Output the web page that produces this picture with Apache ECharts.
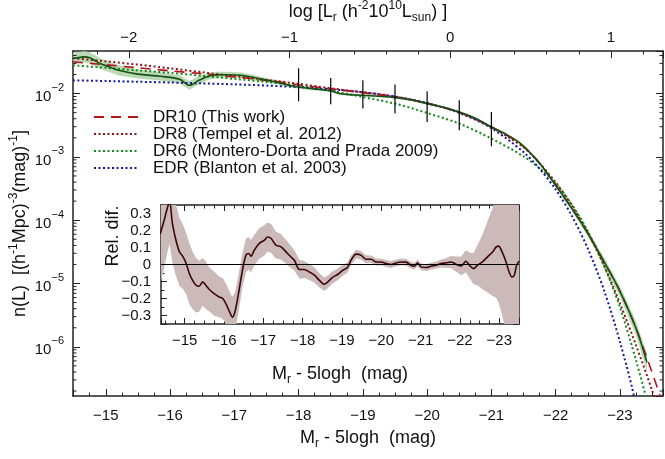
<!DOCTYPE html>
<html><head><meta charset="utf-8">
<script src="https://cdn.jsdelivr.net/npm/echarts@6.0.0/dist/echarts.min.js"></script>
<style>html,body{margin:0;padding:0;background:#fff}#c{width:665px;height:459px}</style>
</head><body><div id="c"></div>
<script>
// ---------------- data ----------------
const modelM = [-14.49, -15, -15.5, -16, -16.5, -17, -17.5, -18, -18.5, -19, -19.5, -20, -20.5, -21, -21.5, -21.75, -22, -22.25, -22.5, -22.75, -23, -23.25, -23.5, -23.7];
const dr10FitN = [0.0318, 0.0285, 0.0256, 0.0229, 0.0206, 0.0184, 0.0162, 0.0138, 0.0119, 0.0103, 0.0089, 0.00703, 0.00507, 0.00299, 0.00147, 7.93e-4, 3.56e-4, 1.54e-4, 6.21e-5, 2.24e-5, 7.53e-6, 1.96e-6, 3.95e-7, 1.0e-7];
const dr8N = [0.0361, 0.0324, 0.0287, 0.0251, 0.0217, 0.0189, 0.0165, 0.0143, 0.0121, 0.0105, 0.0089, 0.00703, 0.00507, 0.00294, 0.00142, 7.93e-4, 3.97e-4, 1.72e-4, 6.44e-5, 1.94e-5, 4.86e-6, 1.06e-6, 2.06e-7, 5.2e-8];
const dr6N = [0.0280, 0.0256, 0.0233, 0.0213, 0.0191, 0.0171, 0.0153, 0.0133, 0.0111, 0.00883, 0.00695, 0.00494, 0.00336, 0.00195, 0.00102, 6.61e-4, 3.83e-4, 1.78e-4, 6.68e-5, 1.94e-5, 4.21e-6, 6.12e-7, 6.9e-8, 1.0e-8];
const edrN = [0.0162, 0.0158, 0.0154, 0.0150, 0.0145, 0.0140, 0.0134, 0.01265, 0.0117, 0.0105, 0.0090, 0.0071, 0.00496, 0.00285, 0.00119, 6.51e-4, 3.06e-4, 1.18e-4, 3.57e-5, 7.95e-6, 1.2e-6, 1.12e-7, 1.0e-9, 1.0e-11];

const dr10M = [-14.49, -14.6, -14.67, -14.75, -14.85, -14.9, -15.05, -15.2, -15.5, -15.85,
  -16.15, -16.3, -16.45, -16.6, -16.75, -16.9, -17.1, -17.25, -17.4, -17.55,
  -17.7, -17.85, -18.0, -18.15, -18.3, -18.5, -18.65, -19.0, -19.25, -19.5,
  -19.75, -20.0, -20.25, -20.5, -20.75, -21.0, -21.2, -21.45, -21.75, -22.0,
  -22.25, -22.5, -22.75, -23.0, -23.25, -23.42];
const dr10N = [0.0361, 0.0374, 0.0381, 0.0368, 0.0324, 0.0301, 0.0265, 0.0233, 0.0203, 0.01875,
  0.01683, 0.01352, 0.01622, 0.01875, 0.01982, 0.01982, 0.01945, 0.01841, 0.01714, 0.01592,
  0.01482, 0.01352, 0.01271, 0.01213, 0.01169, 0.01107, 0.00993, 0.00940, 0.00906, 0.00865,
  0.00798, 0.00695, 0.00608, 0.00512, 0.00407, 0.00296, 0.00236, 0.00164, 7.93e-4, 3.56e-4,
  1.54e-4, 6.21e-5, 2.24e-5, 7.53e-6, 1.96e-6, 5.69e-7];
const dr10ErrDex = [0.09, 0.09, 0.09, 0.088, 0.086, 0.085, 0.082, 0.08, 0.07, 0.065,
  0.065, 0.07, 0.065, 0.055, 0.05, 0.047, 0.043, 0.04, 0.037, 0.034,
  0.031, 0.029, 0.027, 0.025, 0.022, 0.02, 0.019, 0.017, 0.016, 0.015,
  0.015, 0.015, 0.015, 0.015, 0.015, 0.016, 0.018, 0.02, 0.025, 0.03,
  0.04, 0.05, 0.065, 0.085, 0.11, 0.14];

const errM = [-18, -18.5, -19, -19.5, -20, -20.5, -21];
const errLo = [0.00755, 0.00678, 0.0058, 0.00483, 0.00356, 0.00263, 0.00147];
const errHi = [0.0251, 0.01762, 0.0162, 0.01387, 0.01087, 0.00783, 0.00513];

const relM = [-14.38, -14.48, -14.57, -14.62, -14.69, -14.78, -14.87, -14.95, -15.04, -15.12,
  -15.2, -15.29, -15.37, -15.46, -15.54, -15.63, -15.75, -15.88, -15.97, -16.07,
  -16.18, -16.22, -16.29, -16.37, -16.47, -16.56, -16.63, -16.69, -16.77, -16.9,
  -17.03, -17.11, -17.2, -17.32, -17.45, -17.58, -17.7, -17.79, -17.92, -18.04,
  -18.17, -18.3, -18.42, -18.55, -18.64, -18.76, -18.89, -19.02, -19.14, -19.23,
  -19.36, -19.48, -19.61, -19.74, -19.87, -19.99, -20.12, -20.25, -20.37, -20.5,
  -20.63, -20.75, -20.84, -20.92, -21.01, -21.14, -21.26, -21.39, -21.52, -21.64,
  -21.77, -21.9, -22.03, -22.15, -22.24, -22.34, -22.45, -22.57, -22.7, -22.83,
  -22.92, -22.98, -23.07, -23.17, -23.25, -23.32, -23.38, -23.44, -23.5];
const relVal = [0.18, 0.26, 0.34, 0.37, 0.24, 0.143, 0.074, 0.049, 0.006, -0.053,
  -0.092, -0.122, -0.128, -0.102, -0.122, -0.147, -0.171, -0.191, -0.2, -0.24,
  -0.298, -0.31, -0.269, -0.171, -0.034, 0.055, 0.065, 0.049, 0.084, 0.124,
  0.143, 0.162, 0.153, 0.114, 0.104, 0.074, 0.045, 0.025, -0.029, -0.029,
  -0.044, -0.063, -0.092, -0.116, -0.102, -0.076, -0.059, -0.034, -0.018, 0.025,
  0.061, 0.055, 0.031, 0.031, 0.015, 0.015, 0.006, 0.0, 0.009, 0.015,
  0.014, -0.004, -0.01, 0.009, -0.014, -0.018, -0.01, -0.004, 0.006, 0.009,
  0.015, 0.002, -0.008, 0.019, -0.004, -0.024, -0.004, 0.015, 0.045, 0.074,
  0.104, 0.108, 0.074, 0.015, -0.044, -0.073, -0.063, -0.004, 0.02];
const relErr = [0.3, 0.28, 0.26, 0.25, 0.23, 0.21, 0.2, 0.19, 0.18, 0.18,
  0.17, 0.16, 0.15, 0.14, 0.14, 0.13, 0.13, 0.12, 0.12, 0.12,
  0.12, 0.12, 0.11, 0.11, 0.1, 0.1, 0.095, 0.095, 0.09, 0.09,
  0.09, 0.085, 0.085, 0.08, 0.075, 0.07, 0.065, 0.06, 0.055, 0.05,
  0.047, 0.045, 0.042, 0.04, 0.038, 0.036, 0.034, 0.032, 0.03, 0.028,
  0.026, 0.025, 0.024, 0.022, 0.021, 0.02, 0.02, 0.02, 0.02, 0.02,
  0.02, 0.02, 0.02, 0.02, 0.02, 0.02, 0.02, 0.02, 0.024, 0.028,
  0.035, 0.045, 0.055, 0.065, 0.075, 0.09, 0.12, 0.16, 0.21, 0.26,
  0.3, 0.33, 0.37, 0.42, 0.46, 0.5, 0.53, 0.56, 0.6];

const legendNames = ['DR10 (This work)', 'DR8 (Tempel et al. 2012)', 'DR6 (Montero-Dorta and Prada 2009)', 'EDR (Blanton et al. 2003)'];
const mainXRange = [-23.67, -14.49];
const topXRange = [-2.348, 1.324];
const mainYRange = [1.671e-7, 0.0471];
const insetXRange = [-23.5, -14.4];
const insetYRange = [-0.35, 0.35];

// ---------------- styling ----------------
const FONT = '"Liberation Sans", Arial, Helvetica, sans-serif';
const AX = '#222';
const TXT = '#111';
const pairs = (xs, ys) => xs.map((x, i) => [x, ys[i]]);
const minusFmt = v => (v < 0 ? '\u2212' : '') + Math.abs(v);
const relFmt = v => Math.abs(v) < 1e-9 ? '0' : (v < 0 ? '\u2212' : '') + Math.abs(v).toFixed(1);
function richTitle(fs) {
  return {
    fontSize: fs, fontFamily: FONT, color: TXT, lineHeight: fs + 6,
    rich: {
      sup: { fontSize: Math.round(fs * 0.68), lineHeight: Math.round(fs * 0.72), verticalAlign: 'top', fontFamily: FONT, color: TXT },
      sub: { fontSize: Math.round(fs * 0.68), lineHeight: Math.round(fs * 0.72), verticalAlign: 'bottom', fontFamily: FONT, color: TXT }
    }
  };
}
const lineAx = { show: true, onZero: false, lineStyle: { color: AX, width: 1.5 } };
const tickIn = (len) => ({ show: true, inside: true, length: len, lineStyle: { color: AX, width: 1 } });
const lbl = (extra) => Object.assign({ fontSize: 15, fontFamily: FONT, color: TXT, showMinLabel: false, showMaxLabel: false }, extra);

// minor ticks of the log axis (2..9 x 10^n)
const logMinor = [];
for (let e = -7; e <= -2; e++) for (let k = 2; k <= 9; k++) {
  const v = k * Math.pow(10, e);
  if (v > mainYRange[0] && v < mainYRange[1]) logMinor.push([-20, v]);
}

const option = {
  animation: false,
  backgroundColor: '#fff',
  grid: [
    { left: 73, top: 51, width: 590, height: 345, containLabel: false, outerBoundsMode: 'none' },
    { left: 161, top: 205, width: 358, height: 119, containLabel: false, outerBoundsMode: 'none' }
  ],
  legend: {
    data: legendNames, orient: 'vertical', left: 93, top: 108.5, padding: 0,
    itemWidth: 44, itemHeight: 21, itemGap: 0, selectedMode: false,
    itemStyle: { opacity: 0, color: 'transparent', borderWidth: 0 },
    textStyle: { fontSize: 17, fontFamily: FONT, color: TXT, padding: [0, 0, 0, 10] }
  },
  xAxis: [
    { gridIndex: 0, type: 'value', inverse: true, min: mainXRange[0], max: mainXRange[1], splitNumber: 9,
      axisLine: lineAx, axisTick: tickIn(7), splitLine: { show: false },
      minorTick: { show: true, splitNumber: 4, length: 3.5, lineStyle: { color: AX, width: 1 } },
      axisLabel: lbl({ margin: 12, formatter: minusFmt }),
      name: 'M{sub|r} - 5logh  (mag)', nameLocation: 'middle', nameGap: 30, nameMoveOverlap: false,
      nameTextStyle: richTitle(18) },
    { gridIndex: 0, type: 'value', position: 'top', min: topXRange[0], max: topXRange[1], splitNumber: 4,
      axisLine: lineAx, axisTick: tickIn(7), splitLine: { show: false },
      minorTick: { show: true, splitNumber: 5, length: 3.5, lineStyle: { color: AX, width: 1 } },
      axisLabel: lbl({ margin: 6, formatter: minusFmt }),
      name: 'log [L{sub|r} (h{sup|-2}10{sup|10}L{sub|sun}) ]', nameLocation: 'middle', nameGap: 27, nameMoveOverlap: false,
      nameTextStyle: richTitle(18) },
    { gridIndex: 1, type: 'value', inverse: true, min: insetXRange[0], max: insetXRange[1], splitNumber: 9,
      axisLine: lineAx, axisTick: tickIn(6), splitLine: { show: false },
      minorTick: { show: true, splitNumber: 4, length: 3.5, lineStyle: { color: AX, width: 1 } },
      axisLabel: lbl({ margin: 9, formatter: minusFmt }),
      name: 'M{sub|r} - 5logh  (mag)', nameLocation: 'middle', nameGap: 38, nameMoveOverlap: false,
      nameTextStyle: richTitle(18) },
    { gridIndex: 1, type: 'value', position: 'top', inverse: true, min: insetXRange[0], max: insetXRange[1], splitNumber: 9,
      axisLine: lineAx, axisTick: tickIn(6), splitLine: { show: false },
      minorTick: { show: true, splitNumber: 4, length: 3.5, lineStyle: { color: AX, width: 1 } },
      axisLabel: { show: false } }
  ],
  yAxis: [
    { gridIndex: 0, type: 'log', logBase: 10, min: mainYRange[0], max: mainYRange[1],
      axisLine: lineAx, axisTick: tickIn(7), splitLine: { show: false },
      axisLabel: lbl({ margin: 9,
        formatter: v => { const e = Math.round(Math.log10(v)); return '{b|10}{s|' + (e < 0 ? '\u2212' : '') + Math.abs(e) + '}'; },
        rich: { b: { fontSize: 15, lineHeight: 22, verticalAlign: 'bottom', fontFamily: FONT, color: TXT },
                s: { fontSize: 11, lineHeight: 12, verticalAlign: 'top', fontFamily: FONT, color: TXT } } }),
      name: 'n(L)  [(h{sup|-1}Mpc){sup|-3}(mag){sup|-1}]', nameLocation: 'middle', nameGap: 41, nameMoveOverlap: false,
      nameTextStyle: richTitle(18) },
    { gridIndex: 0, type: 'log', logBase: 10, position: 'right', min: mainYRange[0], max: mainYRange[1],
      axisLine: lineAx, axisTick: tickIn(7), splitLine: { show: false }, axisLabel: { show: false } },
    { gridIndex: 1, type: 'value', min: insetYRange[0], max: insetYRange[1], splitNumber: 7,
      axisLine: lineAx, axisTick: tickIn(6), splitLine: { show: false },
      minorTick: { show: true, splitNumber: 2, length: 3.5, lineStyle: { color: AX, width: 1 } },
      axisLabel: lbl({ margin: 10, formatter: relFmt }) },
    { gridIndex: 1, type: 'value', position: 'right', min: insetYRange[0], max: insetYRange[1], splitNumber: 7,
      axisLine: lineAx, axisTick: tickIn(6), splitLine: { show: false },
      minorTick: { show: true, splitNumber: 2, length: 3.5, lineStyle: { color: AX, width: 1 } },
      axisLabel: { show: false } }
  ],
  graphic: [
    { type: 'text', x: 113, y: 236, rotation: Math.PI / 2,
      style: { text: 'Rel. dif.', font: '18px ' + FONT, fill: TXT, align: 'center', verticalAlign: 'middle' } }
  ],
  series: [
    { type: 'custom', name: 'DR10 band', xAxisIndex: 0, yAxisIndex: 0, data: [[-20, 0.01]], encode: { x: 0, y: 1 },
      clip: true, silent: true, z: 1,
      renderItem: (params, api) => {
        const pts = [];
        for (let i = 0; i < dr10M.length; i++) pts.push(api.coord([dr10M[i], dr10N[i] * Math.pow(10, dr10ErrDex[i])]));
        for (let i = dr10M.length - 1; i >= 0; i--) pts.push(api.coord([dr10M[i], dr10N[i] / Math.pow(10, dr10ErrDex[i])]));
        return { type: 'polygon', shape: { points: pts }, style: { fill: '#b6d7ae', opacity: 0.95 } };
      } },
    { type: 'line', name: legendNames[1], xAxisIndex: 0, yAxisIndex: 0, data: pairs(modelM, dr8N), symbol: 'none', smooth: 0.3,
      lineStyle: { color: '#8e1313', width: 2, type: [2, 2.5] }, z: 2, emphasis: { disabled: true } },
    { type: 'line', name: legendNames[2], xAxisIndex: 0, yAxisIndex: 0, data: pairs(modelM, dr6N), symbol: 'none', smooth: 0.3,
      lineStyle: { color: '#13891b', width: 2, type: [2, 2.5] }, z: 2, emphasis: { disabled: true } },
    { type: 'line', name: legendNames[3], xAxisIndex: 0, yAxisIndex: 0, data: pairs(modelM, edrN), symbol: 'none', smooth: 0.3,
      lineStyle: { color: '#1515a8', width: 2, type: [2, 2.5] }, z: 2, emphasis: { disabled: true } },
    { type: 'line', name: legendNames[0], xAxisIndex: 0, yAxisIndex: 0, data: pairs(modelM, dr10FitN), symbol: 'none', smooth: 0.3,
      lineStyle: { color: '#b3141c', width: 1.6, type: [10, 7] }, z: 3, emphasis: { disabled: true } },
    { type: 'line', name: 'DR10 data', xAxisIndex: 0, yAxisIndex: 0, data: pairs(dr10M, dr10N), symbol: 'none', smooth: 0.35,
      lineStyle: { color: '#155015', width: 1.6 }, z: 4, emphasis: { disabled: true } },
    { type: 'custom', name: 'errors', xAxisIndex: 0, yAxisIndex: 0, z: 5, silent: true,
      data: errM.map((m, i) => [m, errLo[i], errHi[i]]), encode: { x: 0, y: [1, 2] },
      renderItem: (params, api) => {
        const a = api.coord([api.value(0), api.value(1)]);
        const b = api.coord([api.value(0), api.value(2)]);
        return { type: 'line', shape: { x1: a[0], y1: a[1], x2: b[0], y2: b[1] }, style: { stroke: '#000', lineWidth: 1.2 } };
      } },
    { type: 'custom', name: 'minor', xAxisIndex: 0, yAxisIndex: 0, z: 6, silent: true, clip: false,
      data: logMinor, encode: { x: 0, y: 1 },
      renderItem: (params, api) => {
        const y = api.coord([-20, api.value(1)])[1];
        const cs = params.coordSys;
        return { type: 'group', children: [
          { type: 'line', shape: { x1: cs.x, y1: y, x2: cs.x + 3.5, y2: y }, style: { stroke: AX, lineWidth: 1 } },
          { type: 'line', shape: { x1: cs.x + cs.width - 3.5, y1: y, x2: cs.x + cs.width, y2: y }, style: { stroke: AX, lineWidth: 1 } }
        ] };
      } },
    { type: 'custom', name: 'rel band', xAxisIndex: 2, yAxisIndex: 2, data: [[-20, 0]], encode: { x: 0, y: 1 },
      clip: true, silent: true, z: 1,
      renderItem: (params, api) => {
        const pts = [];
        for (let i = 0; i < relM.length; i++) pts.push(api.coord([relM[i], relVal[i] + relErr[i]]));
        for (let i = relM.length - 1; i >= 0; i--) pts.push(api.coord([relM[i], relVal[i] - relErr[i]]));
        return { type: 'polygon', shape: { points: pts }, style: { fill: '#ccb9b9' } };
      } },
    { type: 'line', name: 'Rel. dif.', xAxisIndex: 2, yAxisIndex: 2, data: pairs(relM, relVal), symbol: 'none', smooth: 0.3,
      lineStyle: { color: '#3a0707', width: 1.6 }, z: 3, emphasis: { disabled: true },
      markLine: { silent: true, symbol: 'none', label: { show: false }, animation: false,
        lineStyle: { color: '#000', width: 1, type: 'solid' }, data: [{ yAxis: 0 }] } }
  ]
};
const chart = echarts.init(document.getElementById('c'));
chart.setOption(option);
</script>
</body></html>
